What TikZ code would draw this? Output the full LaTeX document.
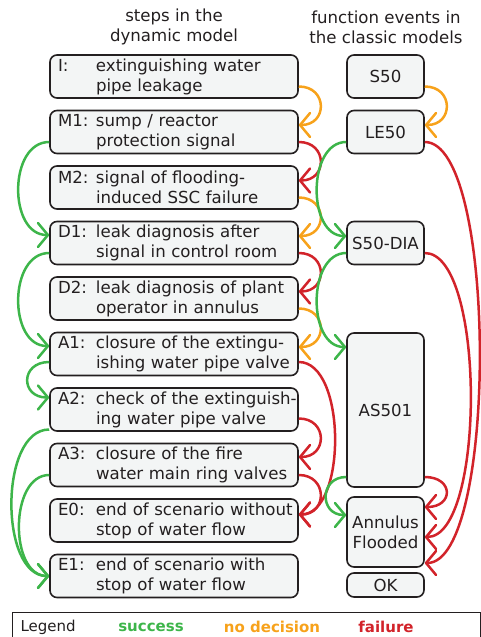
\documentclass[tikz,border=0pt]{standalone}
\usepackage{fontspec}
\setmainfont{DejaVu Sans}
\usetikzlibrary{arrows.meta}
\definecolor{succgreen}{HTML}{3DB54A}
\definecolor{nodecorange}{HTML}{F7A21B}
\definecolor{failred}{HTML}{D2232A}
\definecolor{boxgray}{HTML}{F3F5F5}
\definecolor{inkgray}{HTML}{231F20}
\newcommand{\steptxt}[3]{\hspace*{8pt}\makebox[38pt][l]{#1}#2\\\hspace*{46pt}#3}
\tikzset{
  stepbox/.style={draw=inkgray,fill=boxgray,rounded corners=7pt,line width=1.6pt,
    text width=248pt,inner xsep=0pt,minimum height=43pt,align=left},
  eventbox/.style={draw=inkgray,fill=boxgray,rounded corners=7pt,line width=1.6pt,
    minimum width=77pt,inner xsep=1pt,inner ysep=1pt,align=center},
  link/.style={line width=2.5pt,-{Straight Barb[length=10pt,width=24pt,round]}},
  succ/.style={link,draw=succgreen},
  nodec/.style={link,draw=nodecorange},
  fail/.style={link,draw=failred}
}

\begin{document}
\begin{tikzpicture}[x=1pt,y=-1pt,every node/.style={font=\fontsize{16.6}{20}\selectfont,text=inkgray}]
  \useasboundingbox (0,0) rectangle (481,637);
  \node[align=center] (hdl) at (174,27) {steps in the\\dynamic model};
  \node[align=center] (hdr) at (386,27) {function events in\\the classic models};

  \node[stepbox] (i) at (174,76.5) {\steptxt{I:}{extinguishing water}{pipe leakage}};
  \node[stepbox] (m1) at (174,132) {\steptxt{M1:}{sump / reactor}{protection signal}};
  \node[stepbox] (m2) at (174,187.5) {\steptxt{M2:}{signal of flooding-}{induced SSC failure}};
  \node[stepbox] (d1) at (174,243) {\steptxt{D1:}{leak diagnosis after}{signal in control room}};
  \node[stepbox] (d2) at (174,298.5) {\steptxt{D2:}{leak diagnosis of plant}{operator in annulus}};
  \node[stepbox] (a1) at (174,354) {\steptxt{A1:}{closure of the extingu-}{ishing water pipe valve}};
  \node[stepbox] (a2) at (174,409.5) {\steptxt{A2:}{check of the extinguish-}{ing water pipe valve}};
  \node[stepbox] (a3) at (174,465) {\steptxt{A3:}{closure of the fire}{water main ring valves}};
  \node[stepbox] (e0) at (174,520.5) {\steptxt{E0:}{end of scenario without}{stop of water flow}};
  \node[stepbox] (e1) at (174,576) {\steptxt{E1:}{end of scenario with}{stop of water flow}};

  \node[eventbox,minimum height=43pt] (s50) at (385.5,76.5) {S50};
  \node[eventbox,minimum height=43pt] (le50) at (385.5,132) {LE50};
  \node[eventbox,minimum height=43pt] (dia) at (385.5,243) {S50-DIA};
  \node[eventbox,minimum height=154pt] (as501) at (385.5,410) {AS501};
  \node[eventbox,minimum height=70pt] (flood) at (385.5,532) {Annulus\\Flooded};
  \node[eventbox,minimum height=24pt] (ok) at (385.5,585) {OK};

  \draw[nodec] ([yshift=-10pt]i.east) to[out=0,in=0,distance=29pt] ([yshift=7pt]m1.east);
  \draw[nodec] ([yshift=-10pt]s50.east) to[out=0,in=0,distance=29pt] ([yshift=7pt]le50.east);
  \draw[nodec] ([yshift=-10pt]m2.east) to[out=0,in=0,distance=29pt] ([yshift=7pt]d1.east);
  \draw[nodec] ([yshift=-10pt]d2.east) to[out=0,in=0,distance=29pt] ([yshift=7pt]a1.east);

  \draw[fail] ([yshift=-10pt]m1.east) to[out=0,in=0,distance=29pt] ([yshift=7pt]m2.east);
  \draw[fail] ([yshift=-10pt]d1.east) to[out=0,in=0,distance=29pt] ([yshift=7pt]d2.east);
  \draw[fail] ([yshift=-8pt]a1.east) to[out=0,in=0,distance=48pt] ([yshift=6pt]e0.east);
  \draw[fail] ([yshift=-9pt]a2.east) to[out=0,in=0,distance=29pt] ([yshift=8pt]a3.east);
  \draw[fail] ([yshift=-10pt]a3.east) to[out=0,in=0,distance=29pt] ([yshift=6pt]e0.east);
  \draw[fail] ([yshift=-10pt]le50.east) to[out=0,in=0,distance=73pt] ([yshift=-31pt]flood.east);
  \draw[fail] ([yshift=-10pt]dia.east) to[out=0,in=0,distance=61pt] ([yshift=-5pt]flood.east);
  \draw[fail] ([yshift=-67pt]as501.east) to[out=0,in=0,distance=29pt] ([yshift=25pt]flood.east);

  \draw[succ] ([yshift=-10pt]m1.west) to[out=180,in=180,distance=41pt] ([yshift=8pt]d1.west);
  \draw[succ] ([yshift=-10pt]d1.west) to[out=180,in=180,distance=41pt] ([yshift=8pt]a1.west);
  \draw[succ] ([yshift=-8pt]a1.west) to[out=180,in=180,distance=29pt] ([yshift=12pt]a2.west);
  \draw[succ] ([yshift=-20pt]a2.west) to[out=180,in=180,distance=50pt] (e1.west);
  \draw[succ] ([yshift=-10pt]a3.west) to[out=180,in=180,distance=40pt] (e1.west);
  \draw[succ] ([yshift=-10pt]le50.west) to[out=180,in=180,distance=39pt] ([yshift=7pt]dia.west);
  \draw[succ] ([yshift=-10pt]dia.west) to[out=180,in=180,distance=39pt] ([yshift=63pt]as501.west);
  \draw[succ] ([yshift=-67pt]as501.west) to[out=180,in=180,distance=27pt] ([yshift=17pt]flood.west);

  \draw[draw=inkgray,line width=1pt] (12,612) rectangle (480,650);
  \node[anchor=west,font=\fontsize{15}{18}\selectfont] (lgd) at (17,627) {Legend};
  \node[text=succgreen,font=\fontsize{15}{18}\selectfont\bfseries] (lsucc) at (151,627) {success};
  \node[text=nodecorange,font=\fontsize{15}{18}\selectfont\bfseries] (lnodec) at (272,627) {no decision};
  \node[text=failred,font=\fontsize{15}{18}\selectfont\bfseries] (lfail) at (386,627) {failure};
\end{tikzpicture}
\end{document}
